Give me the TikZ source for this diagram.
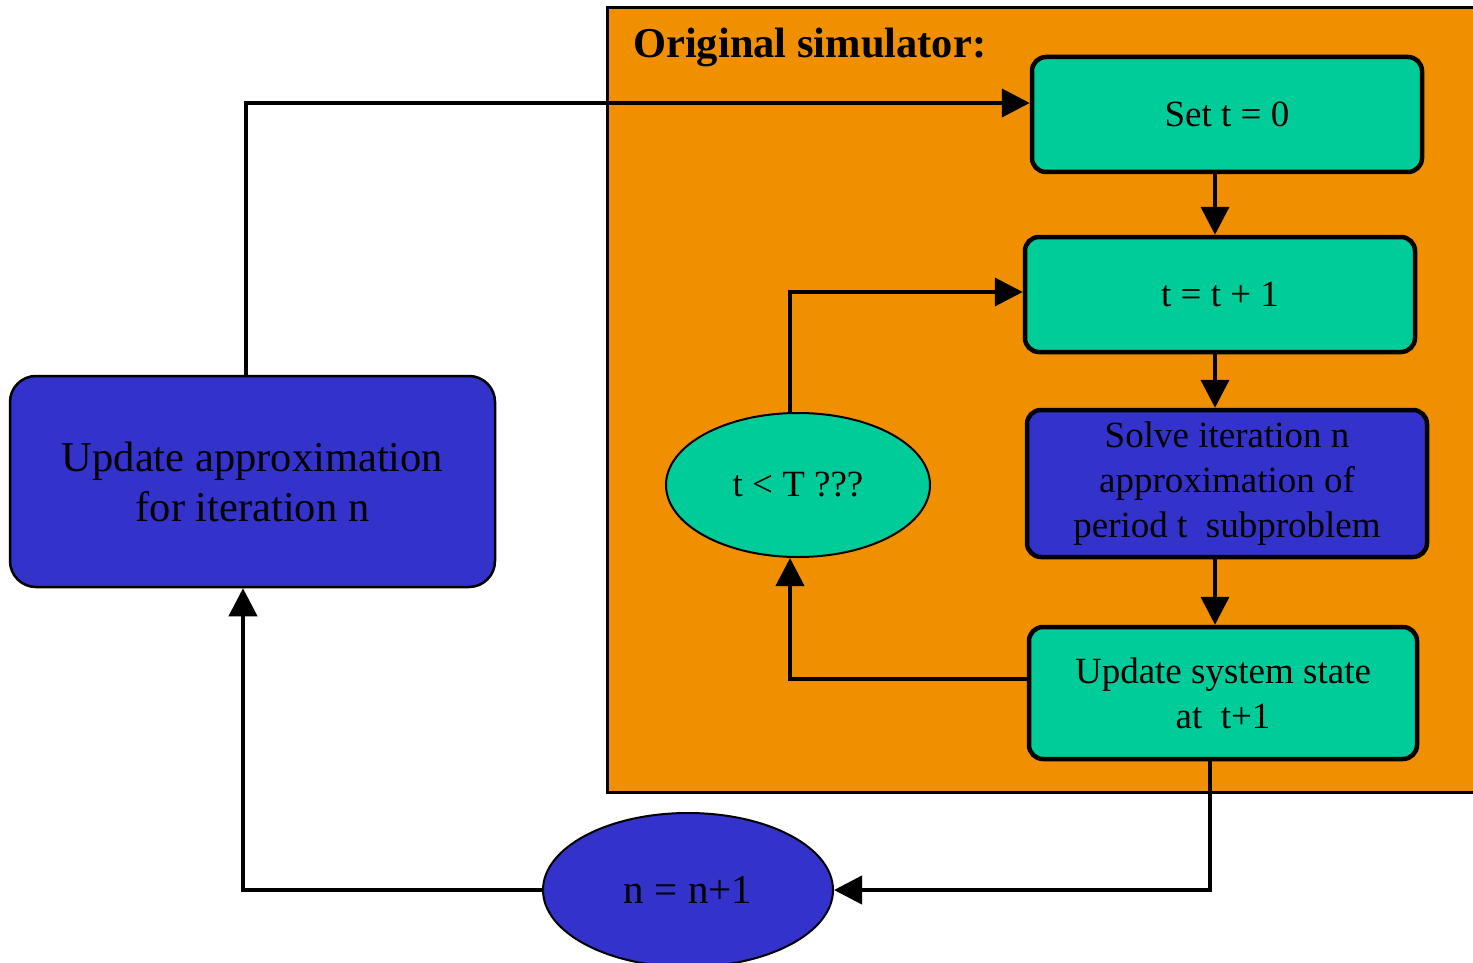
\documentclass[tikz,border=0pt]{standalone}
\usepackage{fontspec}
\setmainfont{Liberation Serif}
\usetikzlibrary{arrows.meta,shapes.geometric}
\definecolor{simorange}{RGB}{240,143,0}
\definecolor{stepgreen}{RGB}{0,204,153}
\definecolor{stepblue}{RGB}{51,51,204}
\tikzset{
  greenbox/.style={draw=black,line width=4.5pt,fill=stepgreen,rounded corners=14pt,
    inner sep=0pt,align=center,font=\fontsize{37}{45}\selectfont},
  bluebox/.style={greenbox,fill=stepblue},
  bigbox/.style={draw=black,line width=2.5pt,fill=stepblue,rounded corners=26pt,
    inner sep=0pt,align=center,font=\fontsize{42.5}{50}\selectfont},
  condoval/.style={ellipse,draw=black,line width=2pt,fill=stepgreen,inner sep=0pt,
    font=\fontsize{37}{45}\selectfont},
  countoval/.style={ellipse,draw=black,line width=2pt,fill=stepblue,inner sep=0pt,
    font=\fontsize{41}{49}\selectfont},
  conn/.style={draw=black,line width=4pt,-{Triangle[length=28pt,width=28pt]}},
}
\begin{document}
\begin{tikzpicture}[x=1pt,y={(0pt,-1pt)}]
\useasboundingbox (0,0) rectangle (1473,963);
\clip (0,0) rectangle (1473,963);
% simulator frame
\draw[fill=simorange,line width=3pt] (607,8) rectangle (1500,792);
\node[anchor=base west,inner sep=0pt,font=\fontsize{42.5}{50}\selectfont\bfseries] (title) at (633,58) {Original simulator:};
% steps of the simulator
\node[greenbox,minimum width=390pt,minimum height=115pt] (set) at (1227,114.5) {Set t = 0};
\node[greenbox,minimum width=390pt,minimum height=115pt] (tt) at (1220,294.5) {t = t + 1};
\node[bluebox,minimum width=400pt,minimum height=147pt] (solve) at (1227,483.5)
  {Solve iteration n\\approximation of\\period t\ \ subproblem};
\node[greenbox,minimum width=388pt,minimum height=132pt] (sys) at (1223,693)
  {Update system state\\at\ \ t+1};
\node[condoval,minimum width=264pt,minimum height=144pt] (cond) at (798,485) {t < T ???};
% outer loop
\node[bigbox,minimum width=485pt,minimum height=211pt] (upd) at (252.5,481.5)
  {Update approximation\\for iteration n};
\node[countoval,minimum width=290pt,minimum height=154pt] (nn) at (688,890) {n = n+1};
% connectors
\draw[conn] ([xshift=-6.5pt]upd.north) |- ([yshift=11.5pt]set.west);
\draw[conn] ([xshift=-12pt]set.south) -- ([xshift=-12pt]set.south |- tt.north);
\draw[conn] ([xshift=-5pt]tt.south) -- ([xshift=-5pt]tt.south |- solve.north);
\draw[conn] ([xshift=-12pt]solve.south) -- ([xshift=-12pt]solve.south |- sys.north);
\draw[conn] ([yshift=14pt]sys.west) -| ([xshift=-8pt]cond.south);
\draw[conn] ([xshift=-8pt]cond.north) |- ([yshift=2.5pt]tt.west);
\draw[conn] ([xshift=-13pt]sys.south) |- (nn.east);
\draw[conn] (nn.west) -| ([xshift=-9.5pt]upd.south);
\end{tikzpicture}
\end{document}
